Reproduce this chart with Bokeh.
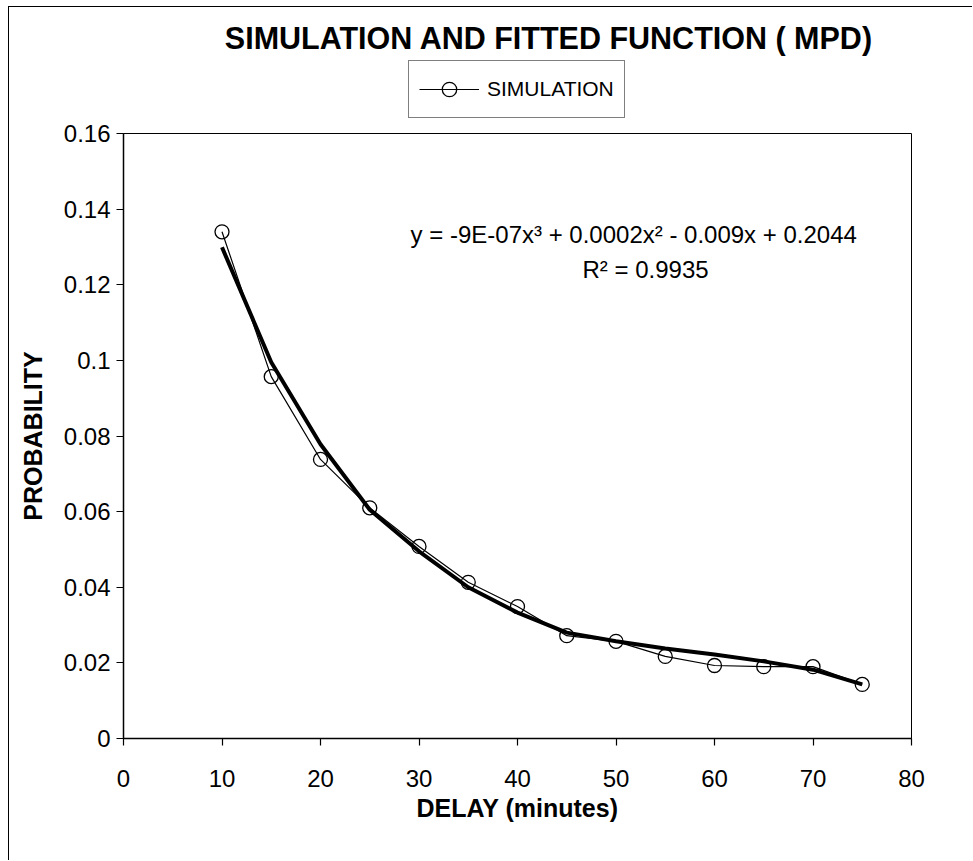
from bokeh.plotting import figure
from bokeh.layouts import column
from bokeh.models import (Range1d, FixedTicker, CustomJSTickFormatter, Label,
                          Legend, LegendItem)
from bokeh.embed import file_html
from bokeh.resources import INLINE

# ---- data ----
delay = [10, 15, 20, 25, 30, 35, 40, 45, 50, 55, 60, 65, 70, 75]
simulation = [0.134, 0.0957, 0.0738, 0.0610, 0.0508, 0.0413, 0.0349,
              0.0272, 0.0257, 0.0217, 0.0193, 0.0190, 0.0190, 0.0143]
fitted = [0.1299, 0.0995, 0.0778, 0.0605, 0.0495, 0.0400, 0.0333,
          0.0280, 0.0257, 0.0238, 0.0222, 0.0204, 0.0182, 0.0143]

x_ticks = [0, 10, 20, 30, 40, 50, 60, 70, 80]
x_tick_labels = ["0", "10", "20", "30", "40", "50", "60", "70", "80"]
y_ticks = [0, 0.02, 0.04, 0.06, 0.08, 0.1, 0.12, 0.14, 0.16]
y_tick_labels = ["0", "0.02", "0.04", "0.06", "0.08", "0.1", "0.12", "0.14", "0.16"]

title_text = "SIMULATION AND FITTED FUNCTION ( MPD)"
equation_text = "y = -9E-07x\u00b3 + 0.0002x\u00b2 - 0.009x + 0.2044"
r2_text = "R\u00b2 = 0.9935"
x_label = "DELAY (minutes)"
y_label = "PROBABILITY"
legend_label = "SIMULATION"

FONT = "Liberation Sans"
W = 963
HEAD_H = 112
HEAD_Y0 = 100
FRAME_W = 788

# ---- header (title + legend); its frame is aligned with the main frame ----
head = figure(width=W, height=HEAD_H, output_backend="svg", toolbar_location=None,
              x_range=Range1d(0, FRAME_W), y_range=Range1d(HEAD_Y0, HEAD_Y0 + HEAD_H),
              x_axis_type=None, y_axis_type=None, min_border=0)
head.outline_line_color = None
head.grid.visible = False
head.background_fill_color = "white"
head.border_fill_color = "white"

# legend sample renderers (their data lie far outside the header's visible range)
leg_line = head.line(delay, simulation, line_color="black", line_width=1.2)
leg_pts = head.scatter(delay, simulation, marker="circle", size=13, fill_alpha=0.0,
                       line_color="black", line_width=1.3)
legend = Legend(items=[LegendItem(label=legend_label, renderers=[leg_line, leg_pts])],
                location=(285, 1))
legend.label_text_font = FONT
legend.label_text_font_size = "21px"
legend.label_text_color = "black"
legend.glyph_width = 60
legend.glyph_height = 36
legend.label_height = 36
legend.label_standoff = 8
legend.padding = 10
legend.margin = 0
legend.border_line_color = "black"
legend.border_line_width = 1
legend.background_fill_color = "white"
head.add_layout(legend, "center")

head.add_layout(Label(x=425.5, y=HEAD_Y0 + 82, text=title_text, text_align="center",
                      text_baseline="middle", text_font=FONT, text_font_size="30.5px",
                      text_font_style="bold", text_color="black"))

# ---- main plot ----
p = figure(frame_width=FRAME_W, frame_height=605, output_backend="svg",
           toolbar_location=None,
           x_range=Range1d(0, 80), y_range=Range1d(0, 0.16),
           min_border_left=114, min_border_right=61,
           min_border_top=14, min_border_bottom=122)
p.background_fill_color = "white"
p.border_fill_color = "white"
p.outline_line_color = "black"
p.outline_line_width = 1
p.grid.visible = False

fmt_js = """
let best = 0; let d = Infinity;
for (let i = 0; i < tvals.length; i++) {
  const dd = Math.abs(tvals[i] - tick);
  if (dd < d) { d = dd; best = i; }
}
return tlabels[best];
"""

p.xaxis.ticker = FixedTicker(ticks=x_ticks)
p.xaxis.formatter = CustomJSTickFormatter(args=dict(tvals=x_ticks, tlabels=x_tick_labels), code=fmt_js)
p.yaxis.ticker = FixedTicker(ticks=y_ticks)
p.yaxis.formatter = CustomJSTickFormatter(args=dict(tvals=y_ticks, tlabels=y_tick_labels), code=fmt_js)

for ax in (p.xaxis, p.yaxis):
    ax.axis_line_color = "black"
    ax.axis_line_width = 1.5
    ax.major_tick_line_color = "black"
    ax.major_tick_line_width = 1.2
    ax.major_tick_out = 7
    ax.major_tick_in = 0
    ax.minor_tick_line_color = None
    ax.major_label_text_font = FONT
    ax.major_label_text_font_size = "24px"
    ax.major_label_text_color = "black"
    ax.axis_label_text_font = FONT
    ax.axis_label_text_font_size = "25px"
    ax.axis_label_text_font_style = "bold"
    ax.axis_label_text_color = "black"

p.xaxis.axis_label = x_label
p.yaxis.axis_label = y_label
p.xaxis.major_label_standoff = 24
p.yaxis.major_label_standoff = 6
p.xaxis.axis_label_standoff = 4
p.yaxis.axis_label_standoff = 14

# fitted trend line (thick)
p.line(delay, fitted, line_color="black", line_width=4)
# simulation line + markers
p.line(delay, simulation, line_color="black", line_width=1.2)
p.scatter(delay, simulation, marker="circle", size=14,
          fill_color="white", fill_alpha=0.0,
          line_color="black", line_width=1.3)

p.add_layout(Label(x=51.8, y=0.1333, text=equation_text, text_align="center",
                   text_baseline="middle", text_font=FONT, text_font_size="24px",
                   text_color="black"))
p.add_layout(Label(x=53.0, y=0.1240, text=r2_text, text_align="center",
                   text_baseline="middle", text_font=FONT, text_font_size="24px",
                   text_color="black"))

layout = column(head, p, spacing=0)
layout.styles = {"margin-left": "8px", "margin-top": "6px",
                 "border-left": "1px solid black", "border-top": "1px solid black"}

open("out.html", "w").write(file_html(layout, INLINE))
